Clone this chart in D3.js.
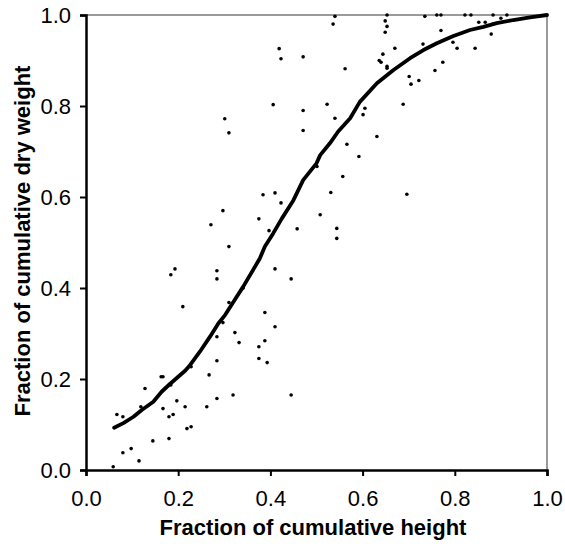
<!DOCTYPE html>
<html>
<head>
<meta charset="utf-8">
<script src="https://cdn.jsdelivr.net/npm/d3@7"></script>
<style>
  body { margin: 0; background: #fff; }
  svg { display: block; }
  text { font-family: "Liberation Sans", Arial, sans-serif; }
</style>
</head>
<body>
<svg id="chart" width="565" height="550"></svg>
<script>
// Individual observations: fraction of cumulative height vs. fraction of cumulative dry weight
const obsHeight = [
  0.419, 0.423, 0.471, 0.406, 0.471, 0.301, 0.310, 0.471, 0.384, 0.410,
  0.423, 0.297, 0.375, 0.271, 0.458, 0.397, 0.508,
  0.540, 0.536, 0.653, 0.649, 0.653, 0.649, 0.735, 0.761, 0.770, 0.822,
  0.835, 0.883, 0.913, 0.900, 0.852, 0.866, 0.883, 0.770, 0.879, 0.731,
  0.670, 0.805, 0.844, 0.796, 0.644, 0.636, 0.640, 0.653, 0.653, 0.774,
  0.757, 0.562, 0.701, 0.705, 0.722, 0.523, 0.688, 0.605, 0.601, 0.540,
  0.631, 0.566, 0.592, 0.501, 0.557, 0.531, 0.696, 0.544, 0.544,
  0.310, 0.193, 0.184, 0.284, 0.284, 0.410, 0.445, 0.210, 0.388, 0.410,
  0.297, 0.323, 0.332, 0.388, 0.375, 0.284, 0.375, 0.393, 0.284, 0.228,
  0.267, 0.163, 0.167, 0.128, 0.319, 0.445, 0.197, 0.284, 0.215, 0.262,
  0.119, 0.167, 0.067, 0.080, 0.189, 0.180, 0.219, 0.228, 0.145, 0.180,
  0.080, 0.098, 0.115, 0.059, 0.184, 0.310, 0.341
];
const obsWeight = [
  0.926, 0.904, 0.908, 0.803, 0.790, 0.772, 0.741, 0.746, 0.605, 0.609,
  0.587, 0.570, 0.552, 0.539, 0.530, 0.526, 0.561,
  0.997, 0.980, 1.000, 0.987, 0.975, 0.962, 0.997, 1.000, 1.000, 1.000,
  1.000, 1.000, 1.000, 0.993, 0.984, 0.984, 0.980, 0.966, 0.958, 0.936,
  0.927, 0.927, 0.927, 0.940, 0.914, 0.900, 0.896, 0.887, 0.883, 0.896,
  0.878, 0.882, 0.865, 0.848, 0.856, 0.804, 0.804, 0.795, 0.781, 0.773,
  0.733, 0.716, 0.689, 0.667, 0.645, 0.610, 0.606, 0.531, 0.509,
  0.491, 0.442, 0.429, 0.438, 0.420, 0.442, 0.420, 0.359, 0.346, 0.315,
  0.324, 0.302, 0.280, 0.284, 0.271, 0.293, 0.245, 0.236, 0.240, 0.227,
  0.209, 0.205, 0.205, 0.179, 0.165, 0.165, 0.152, 0.157, 0.139, 0.139,
  0.139, 0.135, 0.122, 0.117, 0.122, 0.117, 0.091, 0.095, 0.064, 0.069,
  0.038, 0.047, 0.020, 0.007, 0.187, 0.368, 0.400
];

// Running-mean trend through the observations
const trendHeight = [
  0.061, 0.081, 0.103, 0.121, 0.146, 0.164, 0.182, 0.200, 0.215, 0.226,
  0.247, 0.269, 0.287, 0.302, 0.320, 0.341, 0.377, 0.388, 0.406, 0.425,
  0.450, 0.471, 0.500, 0.508, 0.529, 0.547, 0.573, 0.594, 0.631, 0.667,
  0.703, 0.732, 0.761, 0.797, 0.833, 0.862, 0.891, 0.927, 0.963, 1.000
];
const trendWeight = [
  0.093, 0.103, 0.117, 0.132, 0.150, 0.172, 0.189, 0.205, 0.218, 0.231,
  0.260, 0.293, 0.322, 0.341, 0.370, 0.403, 0.465, 0.491, 0.520, 0.553,
  0.593, 0.637, 0.674, 0.692, 0.718, 0.744, 0.773, 0.809, 0.850, 0.879,
  0.905, 0.923, 0.938, 0.954, 0.967, 0.974, 0.982, 0.989, 0.995, 1.000
];

const tickValues = [0, 0.2, 0.4, 0.6, 0.8, 1.0];
const xTitle = "Fraction of cumulative height";
const yTitle = "Fraction of cumulative dry weight";

const svg = d3.select("#chart");
const plotLeft = 86, plotRight = 547, plotTop = 15, plotBottom = 470;

const x = d3.scaleLinear().domain([0, 1]).range([plotLeft, plotRight]);
const y = d3.scaleLinear().domain([0, 1]).range([plotBottom, plotTop]);

// Plot-area frame: grey on top and right
svg.append("path")
  .attr("d", `M${x(0)},${y(1)}H${x(1)}V${y(0)}`)
  .attr("fill", "none")
  .attr("stroke", "#9a9a9a")
  .attr("stroke-width", 2);

const fmt = d3.format(".1f");

const xAxis = svg.append("g")
  .attr("transform", `translate(0,${plotBottom})`)
  .call(d3.axisBottom(x).tickValues(tickValues).tickFormat(fmt).tickSizeOuter(0).tickSize(6).tickPadding(14));
const yAxis = svg.append("g")
  .attr("transform", `translate(${plotLeft},0)`)
  .call(d3.axisLeft(y).tickValues(tickValues).tickFormat(fmt).tickSizeOuter(0).tickSize(6).tickPadding(9));

[xAxis, yAxis].forEach(g => {
  g.select(".domain").attr("stroke", "#000").attr("stroke-width", 2.5);
  g.selectAll(".tick line").attr("stroke", "#000").attr("stroke-width", 2);
  g.selectAll(".tick text")
    .attr("fill", "#000")
    .style("font-size", "22px")
    .style("font-family", "'Liberation Sans', Arial, sans-serif");
});

// Observations
svg.append("g")
  .selectAll("circle")
  .data(d3.range(obsHeight.length))
  .join("circle")
  .attr("cx", i => x(obsHeight[i]))
  .attr("cy", i => y(obsWeight[i]))
  .attr("r", 1.8)
  .attr("fill", "#000");

// Trend line
const line = d3.line()
  .x(i => x(trendHeight[i]))
  .y(i => y(trendWeight[i]));
svg.append("path")
  .datum(d3.range(trendHeight.length))
  .attr("d", line)
  .attr("fill", "none")
  .attr("stroke", "#000")
  .attr("stroke-width", 3.8)
  .attr("stroke-linejoin", "round")
  .attr("stroke-linecap", "round");

// Axis titles
svg.append("text")
  .attr("x", 313)
  .attr("y", 535)
  .attr("text-anchor", "middle")
  .style("font-size", "22px")
  .style("font-weight", "bold")
  .text(xTitle);

svg.append("text")
  .attr("transform", `translate(30,241) rotate(-90)`)
  .attr("text-anchor", "middle")
  .style("font-size", "22px")
  .style("font-weight", "bold")
  .text(yTitle);
</script>
</body>
</html>
